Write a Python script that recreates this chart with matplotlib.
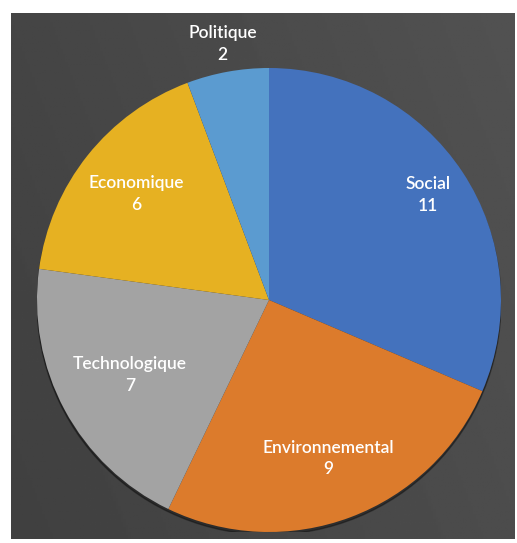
import numpy as np
import matplotlib.pyplot as plt

categories = ["Social", "Environnemental", "Technologique", "Economique", "Politique"]
values = [11, 9, 7, 6, 2]
colors = ["#4472BD", "#DC7B2C", "#A3A3A3", "#E6B122", "#5B9BD0"]
# distance of each label from the centre, as a fraction of the radius
label_dist = [0.82, 0.73, 0.68, 0.73, 1.12]

fig = plt.figure(figsize=(5.17, 5.43), dpi=100)
fig.patch.set_facecolor("white")

# dark gradient background panel
bg = fig.add_axes([11 / 517, 4 / 543, 504 / 517, 526 / 543])
yy, xx = np.mgrid[0:1:200j, 0:1:200j]
grad = 0.25 + 0.05 * xx + 0.02 * (1 - yy)
bg.imshow(grad, cmap="gray", vmin=0, vmax=1, extent=[0, 1, 0, 1], aspect="auto")
bg.axis("off")

ax = fig.add_axes([(269 - 232) / 517, (543 - 300 - 232) / 543, 464 / 517, 464 / 543])

# soft shadow under the pie
ax.add_patch(plt.Circle((0.0, -0.012), 1.0, color="black", alpha=0.35, zorder=0))

wedges, _ = ax.pie(values, colors=colors, startangle=90, counterclock=False,
                   radius=1.0, wedgeprops=dict(linewidth=0))
ax.set_xlim(-1, 1)
ax.set_ylim(-1, 1)
ax.set_aspect("equal")
ax.axis("off")

for w, cat, v, d in zip(wedges, categories, values, label_dist):
    ang = np.deg2rad((w.theta1 + w.theta2) / 2)
    x, y = d * np.cos(ang), d * np.sin(ang)
    ax.text(x, y, f"{cat}\n{v}", ha="center", va="center", color="white",
            fontsize=12.5, family="Lato", fontweight="semibold",
            linespacing=1.45, clip_on=False)

fig.savefig("out.png", dpi=100)
